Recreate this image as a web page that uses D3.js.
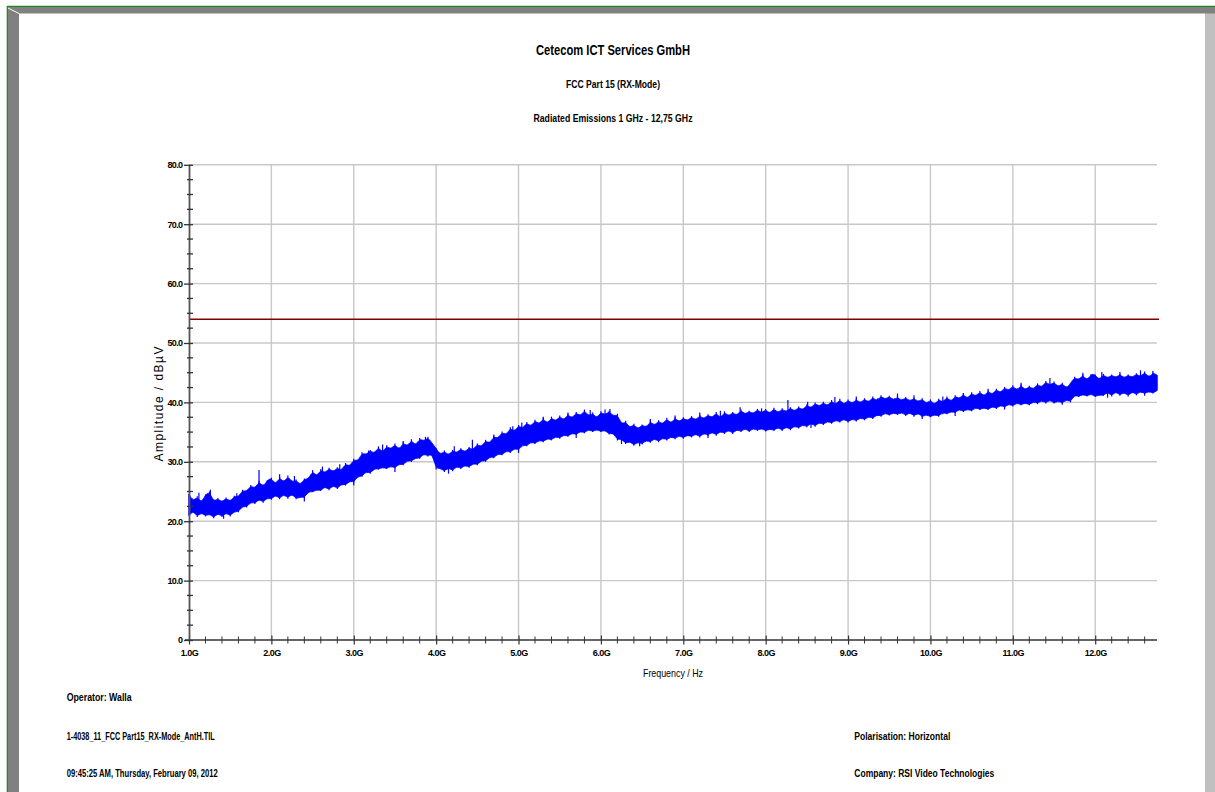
<!DOCTYPE html>
<html><head><meta charset="utf-8">
<script src="https://cdn.jsdelivr.net/npm/d3@7"></script>
<style>
body{margin:0;background:#fff;overflow:hidden}
svg{display:block}
text{font-family:"Liberation Sans Narrow","Arial Narrow","Liberation Sans",Arial,sans-serif;fill:#000}
</style>
</head><body>
<svg id="c" width="1215" height="792"></svg>
<script>
// ---------------- DATA ----------------
const titleLines = ["Cetecom ICT Services GmbH", "FCC Part 15 (RX-Mode)", "Radiated Emissions 1 GHz - 12,75 GHz"];
const xAxisTitle = "Frequency / Hz";
const yAxisTitle = "Amplitude / dBµV";
const xTickValues = [1,2,3,4,5,6,7,8,9,10,11,12];
const xTickLabels = ["1.0G","2.0G","3.0G","4.0G","5.0G","6.0G","7.0G","8.0G","9.0G","10.0G","11.0G","12.0G"];
const yTickValues = [0,10,20,30,40,50,60,70,80];
const yTickLabels = ["0","10.0","20.0","30.0","40.0","50.0","60.0","70.0","80.0"];
const freqDomainGHz = [1.0, 12.75];
const ampDomain = [0, 80];
const limitLine = 54.0;             // dBµV limit
const footerLeft = ["Operator: Walla", "1-4038_11_FCC Part15_RX-Mode_AntH.TIL", "09:45:25 AM, Thursday, February 09, 2012"];
const footerRight = ["Polarisation: Horizontal", "Company: RSI Video Technologies"];

// measured trace envelope (upper / lower edge), one sample every 0.05 GHz from 1.00 GHz
const traceStartGHz = 1.0, traceStepGHz = 0.05;
const traceHi = [
 24.6,23.3,24.2,23.0,24.5,25.0,23.2,23.9,23.1,24.0,23.2,24.3,24.0,25.3,24.9,26.1,25.4,26.8,25.7,26.9,
 27.3,26.1,27.5,26.4,27.7,26.5,27.0,26.0,27.2,27.0,28.6,27.4,28.8,28.0,29.0,28.2,29.1,28.4,29.8,29.1,
 30.5,30.0,31.6,31.1,32.0,31.3,32.6,31.4,32.8,32.0,33.1,31.9,33.3,32.5,33.8,32.6,34.0,33.4,34.2,33.1,
 32.3,31.1,31.9,31.0,32.0,31.4,32.3,31.5,32.5,31.9,33.1,32.4,33.7,33.0,34.4,33.8,35.1,34.4,35.8,35.0,
 36.2,35.5,36.7,35.8,37.1,36.2,37.4,36.3,37.6,36.7,37.8,36.9,38.1,37.2,38.4,37.6,38.8,37.6,38.3,37.2,
 38.5,37.8,38.6,37.6,38.1,36.2,36.9,35.6,36.4,35.4,36.3,35.7,36.9,36.0,37.0,36.2,37.4,36.3,37.5,36.6,
 37.5,36.8,37.7,36.9,37.9,37.1,38.0,37.3,38.4,37.2,38.5,37.6,38.4,37.7,38.8,37.9,38.6,38.0,38.9,38.1,
 38.9,38.0,39.1,38.1,39.0,38.3,39.2,38.4,39.3,38.6,39.7,38.9,40.0,39.2,40.1,39.3,40.4,39.5,40.6,39.5,
 40.5,39.7,40.6,39.8,40.7,39.9,41.0,40.1,41.2,40.4,41.1,40.3,41.0,40.2,40.9,40.1,40.8,40.0,40.7,39.7,
 40.5,39.5,40.6,39.9,41.0,40.0,41.2,40.5,41.5,40.5,41.7,40.9,41.9,40.9,42.0,41.2,42.3,41.5,42.6,41.9,
 42.9,41.9,43.0,42.0,42.8,42.1,43.2,42.4,43.6,42.8,43.5,42.5,43.3,42.3,43.2,44.3,43.7,44.7,43.6,44.8,
 44.7,43.7,44.8,44.0,44.7,44.1,44.8,44.0,44.7,44.1,44.9,44.2,45.2,44.1,45.0,44.6
];
const traceLo = [
 20.9,21.8,20.7,21.5,20.8,21.3,20.5,21.4,20.7,21.5,20.8,21.7,21.5,22.6,22.3,23.3,22.9,23.8,23.1,24.0,
 23.6,24.5,23.7,24.6,23.8,24.7,23.7,24.1,23.9,25.0,24.9,25.3,25.1,25.9,25.2,26.1,25.4,26.3,26.0,26.8,
 26.5,27.6,27.5,28.4,28.0,28.9,28.7,29.1,28.8,29.3,28.9,29.7,29.4,30.3,30.0,30.7,30.5,31.4,30.9,31.5,
 28.7,29.0,28.3,29.1,28.4,29.3,28.8,29.5,29.0,29.8,29.4,30.3,30.0,30.9,30.6,31.4,31.1,31.9,31.5,32.3,
 31.9,32.9,32.6,33.4,33.0,33.7,33.3,34.0,33.6,34.3,33.9,34.6,34.2,34.9,34.5,35.2,34.8,35.5,35.0,35.5,
 35.0,35.4,34.6,34.9,33.6,33.9,33.0,33.5,32.7,33.4,32.9,33.7,33.2,34.0,33.3,34.1,33.6,34.3,33.8,34.5,
 33.9,34.6,34.1,34.8,34.1,34.9,34.4,35.1,34.4,35.2,34.7,35.4,34.7,35.5,35.0,35.7,35.0,35.7,35.2,35.7,
 35.1,35.6,35.2,35.9,35.2,36.0,35.3,36.1,35.6,36.3,35.8,36.6,35.9,36.7,36.2,36.9,36.4,37.1,36.6,37.3,
 36.6,37.3,36.8,37.5,37.0,37.7,37.2,38.0,37.6,38.3,37.8,38.3,37.9,38.4,37.7,38.4,37.6,38.3,37.5,38.0,
 37.5,38.0,37.6,38.4,38.0,38.5,38.2,38.9,38.4,38.9,38.5,39.2,38.7,39.2,38.7,39.4,38.9,39.6,39.1,39.8,
 39.3,40.0,39.5,40.0,39.5,40.2,39.7,40.4,39.8,40.5,39.8,40.3,39.8,40.5,40.0,41.3,40.9,41.4,41.0,41.5,
 40.9,41.3,41.1,41.8,41.0,41.9,41.1,41.8,41.0,41.9,41.2,41.9,41.4,41.9,41.5,42.0
];
// isolated peaks above the band and dips below it: [GHz, dBµV]
const tracePeaks = [[1.12,24.8],[1.26,25.3],[1.58,24.7],[1.85,28.6],[2.1,27.9],[2.28,27.6],[2.62,29.2],[2.83,29.6],
  [3.18,31.9],[3.35,32.9],[3.6,33.5],[3.87,34.2],[4.22,32.6],[4.44,33.7],[4.7,34.6],[4.93,36.0],
  [5.04,36.6],[5.3,37.6],[5.6,38.3],[5.87,38.7],[6.05,38.8],[6.11,38.9],[6.6,37.2],[6.9,37.8],[7.2,38.3],
  [7.45,38.6],[7.69,39.2],[7.95,39.0],[8.27,40.4],[8.51,40.1],[8.84,40.9],[9.1,41.0],[9.36,40.7],[9.6,41.5],
  [9.8,41.2],[10.15,41.0],[10.4,41.6],[10.7,42.3],[11.1,43.3],[11.45,44.1],[11.85,45.0],[12.08,45.1],
  [12.3,45.1],[12.55,45.4],[12.70,45.3]];
const traceDips = [[1.42,20.4],[2.4,23.3],[3.0,26.0],[3.5,28.3],[4.15,28.0],[5.0,31.5],[5.7,34.0],[6.25,33.0],[6.47,32.6],
  [7.3,34.0],[8.55,35.7],[9.9,37.2],[10.3,37.7],[10.9,38.8],[11.6,39.6],[12.15,40.8],[12.6,41.1]];

// ---------------- DRAW ----------------
const svg = d3.select("#c");
const x = d3.scaleLinear().domain(freqDomainGHz).range([189, 1157]);
const y = d3.scaleLinear().domain(ampDomain).range([640, 164.8]);

// window frame
svg.append("rect").attr("x",0).attr("y",0).attr("width",1215).attr("height",792).attr("fill","#fff");
svg.append("rect").attr("x",1205).attr("y",13).attr("width",10).attr("height",779).attr("fill","#c0c0c0");
svg.append("rect").attr("x",7).attr("y",7).attr("width",1208).attr("height",6.5).attr("fill","#808080");
svg.append("rect").attr("x",7).attr("y",7).attr("width",12).attr("height",785).attr("fill","#808080");
svg.append("line").attr("x1",8).attr("y1",8).attr("x2",19).attr("y2",13.5).attr("stroke","#ffffff").attr("stroke-width",1);
svg.append("line").attr("x1",7).attr("y1",6.3).attr("x2",1215).attr("y2",6.3).attr("stroke","#1a8a1a").attr("stroke-width",1.3);
svg.append("line").attr("x1",7.3).attr("y1",6).attr("x2",7.3).attr("y2",792).attr("stroke","#1a8a1a").attr("stroke-width",1.2);

// titles
const tpos = [{y:55,size:15,w:154,weight:"bold"},{y:88,size:11,w:94,weight:"bold"},{y:122,size:11,w:159,weight:"bold"}];
titleLines.forEach((t,i)=>{
  svg.append("text").attr("x",613).attr("y",tpos[i].y).attr("text-anchor","middle")
    .attr("font-size",tpos[i].size).attr("font-weight",tpos[i].weight)
    .attr("textLength",tpos[i].w).attr("lengthAdjust","spacingAndGlyphs").text(t);
});

// grid
const grid = svg.append("g").attr("stroke","#c8c8c8").attr("stroke-width",1.4);
yTickValues.filter(v=>v>0).forEach(v=>grid.append("line").attr("x1",x(1)).attr("x2",x(12.75)).attr("y1",y(v)).attr("y2",y(v)));
xTickValues.filter(v=>v>1).forEach(v=>grid.append("line").attr("x1",x(v)).attr("x2",x(v)).attr("y1",y(80)).attr("y2",y(0)));

// limit line
svg.append("line").attr("x1",x(1)).attr("x2",x(12.75)+2).attr("y1",y(limitLine)).attr("y2",y(limitLine))
  .attr("stroke","#800000").attr("stroke-width",1.4);

// trace: smoothed body plus one thin stroke per measured sample
const tr = traceHi.map((h,i)=>({f: traceStartGHz + i*traceStepGHz, hi:h, lo:traceLo[i]}));
svg.append("path").datum(tr).attr("fill","#0000ff").attr("stroke","#0000ff").attr("stroke-width",0.8)
  .attr("d", d3.area().curve(d3.curveBasis).x(d=>x(d.f)).y0(d=>y(d.lo)).y1(d=>y(d.hi)));
svg.append("g").attr("stroke","#0000ff").attr("stroke-width",1.2)
  .selectAll("line").data(tr).join("line")
  .attr("x1",d=>x(d.f)).attr("x2",d=>x(d.f)).attr("y1",d=>y(d.hi)).attr("y2",d=>y(d.lo));
svg.append("g").attr("stroke","#0000ff").attr("stroke-width",1.2)
  .selectAll("line").data(tracePeaks).join("line")
  .attr("x1",d=>x(d[0])).attr("x2",d=>x(d[0])).attr("y1",d=>y(d[1])).attr("y2",d=>y(d[1]-3));
svg.append("g").attr("stroke","#0000ff").attr("stroke-width",1.2)
  .selectAll("line").data(traceDips).join("line")
  .attr("x1",d=>x(d[0])).attr("x2",d=>x(d[0])).attr("y1",d=>y(d[1])).attr("y2",d=>y(d[1]+3));

// x axis
const xMinor = d3.range(1, 12.7, 0.2).filter(v=>Math.abs(v-Math.round(v))>1e-6);
const xa = svg.append("g").attr("transform","translate(0,640)");
xa.append("line").attr("x1",x(1)-4).attr("x2",x(12.75)).attr("stroke","#333").attr("stroke-width",1.5);
xa.selectAll(".mn").data(xMinor).join("line").attr("x1",d=>x(d)).attr("x2",d=>x(d)).attr("y1",-3.5).attr("y2",3.5).attr("stroke","#333").attr("stroke-width",1);
xa.call(d3.axisBottom(x).tickValues(xTickValues).tickFormat((d,i)=>xTickLabels[i]).tickSize(4).tickPadding(6))
  .call(g=>g.select(".domain").remove())
  .call(g=>g.selectAll(".tick line").attr("y1",-4.5).attr("y2",4.5).attr("stroke","#333").attr("stroke-width",1.2))
  .call(g=>g.selectAll(".tick text").attr("font-size",9).attr("font-weight","bold").attr("font-family",null).attr("letter-spacing","-0.5px"));

// y axis
const yMinor = d3.range(0, 80.1, 2.5).filter(v=>v%10!==0);
const ya = svg.append("g").attr("transform","translate(189.5,0)");
ya.append("line").attr("y1",y(80)).attr("y2",y(0)).attr("stroke","#555").attr("stroke-width",1.8);
ya.selectAll(".mn").data(yMinor).join("line").attr("y1",d=>y(d)).attr("y2",d=>y(d)).attr("x1",-2.5).attr("x2",3.5).attr("stroke","#333").attr("stroke-width",1.3);
ya.call(d3.axisLeft(y).tickValues(yTickValues).tickFormat((d,i)=>yTickLabels[i]).tickSize(5).tickPadding(2))
  .call(g=>g.select(".domain").remove())
  .call(g=>g.selectAll(".tick line").attr("x1",3.5).attr("x2",-5.5).attr("stroke","#333").attr("stroke-width",1.3))
  .call(g=>g.selectAll(".tick text").attr("font-size",9).attr("font-weight","bold").attr("font-family",null).attr("letter-spacing","-0.6px"));

// axis titles
svg.append("text").attr("x",673).attr("y",677).attr("text-anchor","middle").attr("font-size",11)
  .attr("textLength",60).attr("lengthAdjust","spacingAndGlyphs").text(xAxisTitle);
svg.append("text").attr("transform","translate(163,404) rotate(-90)").attr("text-anchor","middle")
  .attr("font-size",12).style("font-family","'Liberation Sans',Arial,sans-serif")
  .attr("textLength",115).attr("lengthAdjust","spacing").text(yAxisTitle);

// footers
const fl = [{y:701,w:65},{y:740,w:148},{y:777,w:151}];
footerLeft.forEach((t,i)=>svg.append("text").attr("x",66.7).attr("y",fl[i].y).attr("font-size",10).attr("font-weight","bold")
  .attr("textLength",fl[i].w).attr("lengthAdjust","spacingAndGlyphs").text(t));
const fr = [{y:740,w:96},{y:777,w:140}];
footerRight.forEach((t,i)=>svg.append("text").attr("x",854.3).attr("y",fr[i].y).attr("font-size",10).attr("font-weight","bold")
  .attr("textLength",fr[i].w).attr("lengthAdjust","spacingAndGlyphs").text(t));
</script>
</body></html>
